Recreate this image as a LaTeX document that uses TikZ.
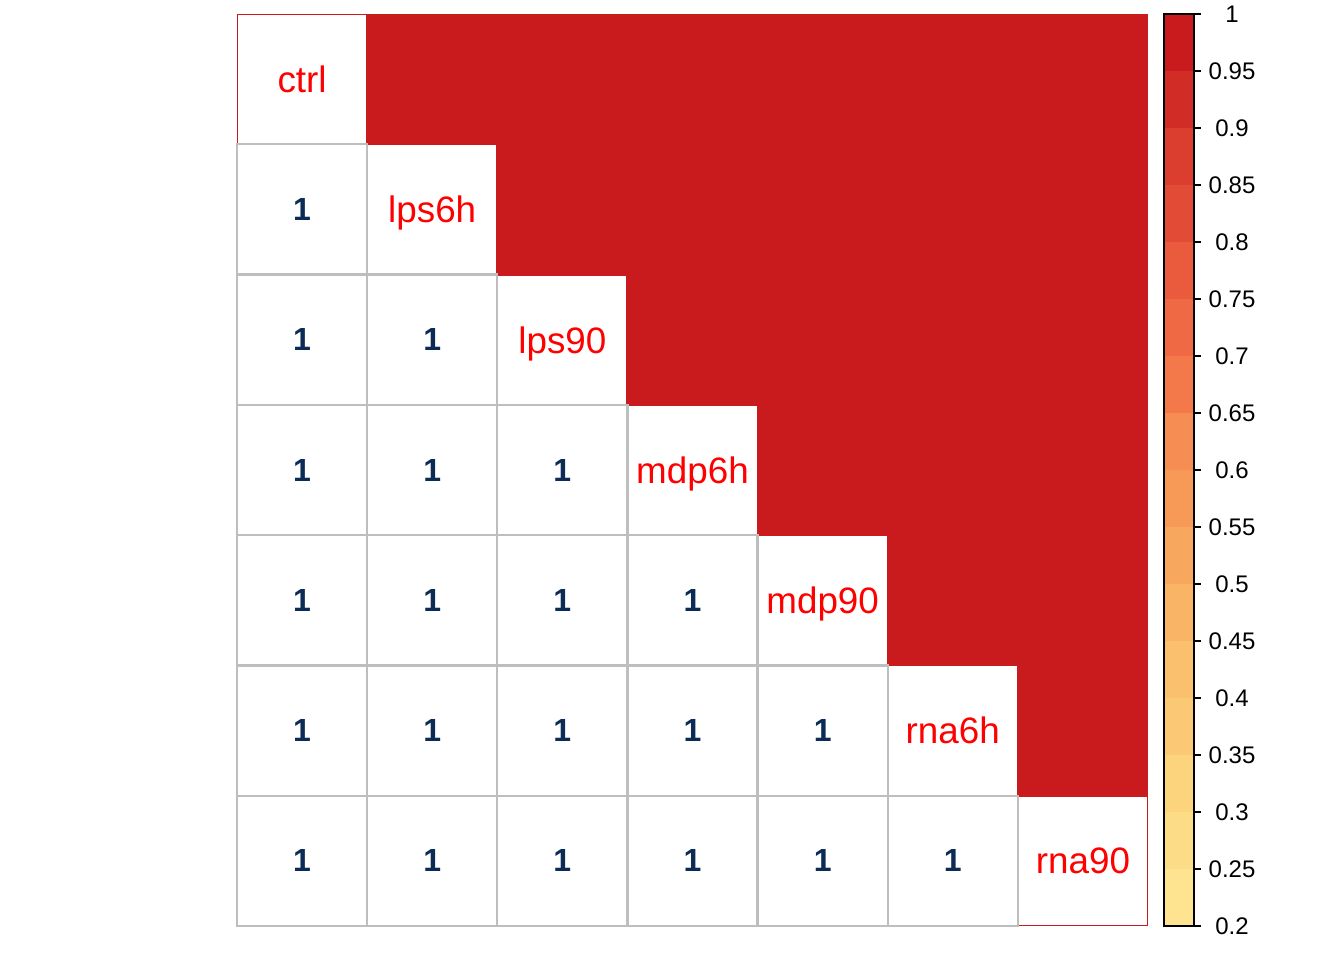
\documentclass[tikz,border=0pt]{standalone}
\usepackage{fontspec}
\setmainfont{Liberation Sans}
\definecolor{cellred}{RGB}{201,27,30}
\definecolor{gridgray}{RGB}{190,190,190}
\definecolor{numblue}{RGB}{12,43,85}
\definecolor{labred}{RGB}{255,0,0}
\definecolor{b0}{RGB}{254,228,145}
\definecolor{b1}{RGB}{253,220,135}
\definecolor{b2}{RGB}{252,212,126}
\definecolor{b3}{RGB}{251,201,118}
\definecolor{b4}{RGB}{250,192,110}
\definecolor{b5}{RGB}{249,180,102}
\definecolor{b6}{RGB}{248,167,94}
\definecolor{b7}{RGB}{247,154,88}
\definecolor{b8}{RGB}{246,141,82}
\definecolor{b9}{RGB}{243,121,75}
\definecolor{b10}{RGB}{239,106,68}
\definecolor{b11}{RGB}{234,91,61}
\definecolor{b12}{RGB}{226,75,54}
\definecolor{b13}{RGB}{219,61,46}
\definecolor{b14}{RGB}{210,44,38}
\definecolor{b15}{RGB}{201,27,30}
\tikzset{
  difont/.style={text=labred,font=\fontsize{36.8}{40}\selectfont,inner sep=0pt,text depth=0pt},
  numfont/.style={text=numblue,font=\fontsize{32}{34}\selectfont\bfseries,inner sep=0pt,text depth=0pt},
  cbfont/.style={text=black,font=\fontsize{24}{26}\selectfont,inner sep=0pt,text depth=0pt},
  cellline/.style={draw=gridgray,line width=2.2pt},
}
\begin{document}
\begin{tikzpicture}[x=1pt,y=-1pt]
\useasboundingbox (0,0) rectangle (1344,960);
\fill[white] (0,0) rectangle (1344,960);
\def\cw{130.143}
\def\ch{130.286}
% upper triangle (including diagonal) in red
\foreach \r in {0,...,6}{
  \fill[cellred] ({237+\r*\cw},{14+\r*\ch}) rectangle (1148,{14+(\r+1)*\ch});
}
% diagonal white cells
\foreach \r in {0,...,6}{
  \fill[white] ({237+\r*\cw+1},{14+\r*\ch+1}) rectangle ({237+(\r+1)*\cw-1},{14+(\r+1)*\ch-1});
}
% lower triangle cells
\foreach \r in {1,...,6}{
  \pgfmathtruncatemacro{\last}{\r-1}
  \foreach \c in {0,...,\last}{
    \draw[cellline] ({237+\c*\cw},{14+\r*\ch}) rectangle ({237+(\c+1)*\cw},{14+(\r+1)*\ch});
    \node[numfont] (n\r-\c) at ({237+(\c+0.5)*\cw},{14+(\r+0.5)*\ch}) {1};
  }
}
% diagonal labels
\foreach \r/\t in {0/ctrl,1/lps6h,2/lps90,3/mdp6h,4/mdp90,5/rna6h,6/rna90}{
  \node[difont] (d\r) at ({237+(\r+0.5)*\cw},{14+(\r+0.5)*\ch}) {\t};
}
% colour bar
\foreach \k in {0,...,15}{
  \fill[b\k] (1164,{926-\k*57}) rectangle (1194,{926-(\k+1)*57});
}
\draw[black,line width=1.6pt] (1164,14) rectangle (1194,926);
\foreach \k/\t in {0/0.2,1/0.25,2/0.3,3/0.35,4/0.4,5/0.45,6/0.5,7/0.55,8/0.6,9/0.65,10/0.7,11/0.75,12/0.8,13/0.85,14/0.9,15/0.95,16/1}{
  \draw[black,line width=1.6pt] (1194,{926-\k*57}) -- (1201,{926-\k*57});
  \node[cbfont] (cb\k) at (1232,{926-\k*57}) {\t};
}
\end{tikzpicture}
\end{document}
